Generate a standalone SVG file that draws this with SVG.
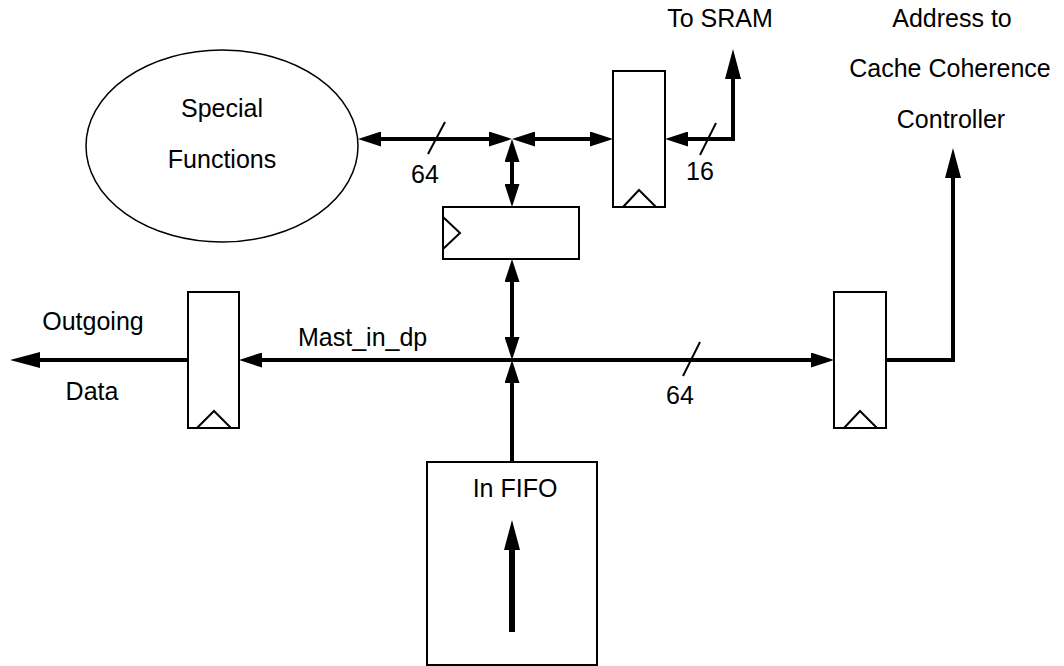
<svg xmlns="http://www.w3.org/2000/svg" width="1064" height="666" viewBox="0 0 1064 666">
<style>
.box{fill:#fff;stroke:#000;stroke-width:2}
.clk{fill:none;stroke:#000;stroke-width:2}
.bus{fill:none;stroke:#000;stroke-width:4}
.slash{fill:none;stroke:#000;stroke-width:2}
text{font-family:"Liberation Sans",Arial,sans-serif;font-size:25px;fill:#000}
.c{text-anchor:middle}
</style>
<defs>
<marker id="ah" markerUnits="userSpaceOnUse" viewBox="0 0 23 15" refX="0" refY="7.5" markerWidth="23" markerHeight="15" orient="auto-start-reverse"><path d="M0,0 L23,7.5 L0,15 z" fill="#000"/></marker>
<marker id="big" markerUnits="userSpaceOnUse" viewBox="0 0 30 16" refX="0" refY="8" markerWidth="30" markerHeight="16" orient="auto-start-reverse"><path d="M0,0 L30,8 L0,16 z" fill="#000"/></marker>
</defs>
<rect width="1064" height="666" fill="#fff"/>
<g id="special-functions">
<ellipse cx="222" cy="146" rx="136" ry="96" fill="#fff" stroke="#000" stroke-width="1.5"/>
<text class="c" x="222" y="117">Special</text>
<text class="c" x="222" y="168">Functions</text>
</g>
<g id="sram-register">
<rect class="box" x="613" y="71" width="52" height="136"/>
<polyline class="clk" points="623,207 639,190 656,207"/>
</g>
<g id="mid-register">
<rect class="box" x="443" y="207" width="136" height="52"/>
<polyline class="clk" points="443,217 460,233 443,249"/>
</g>
<g id="out-register">
<rect class="box" x="188" y="292" width="51" height="136"/>
<polyline class="clk" points="197,428 214,411 231,428"/>
</g>
<g id="addr-register">
<rect class="box" x="834" y="292" width="52" height="136"/>
<polyline class="clk" points="844,428 860,411 877,428"/>
</g>
<g id="in-fifo">
<rect class="box" x="427" y="462" width="170" height="203"/>
<text class="c" x="515" y="497">In FIFO</text>
<path d="M512,632 L512,550" fill="none" stroke="#000" stroke-width="6" marker-end="url(#big)"/>
</g>
<g id="connectors">
<path class="bus" d="M381,139 L489,139" marker-start="url(#ah)" marker-end="url(#ah)"/>
<path class="bus" d="M535,139 L590,139" marker-start="url(#ah)" marker-end="url(#ah)"/>
<path class="bus" d="M512,162 L512,184" marker-start="url(#ah)" marker-end="url(#ah)"/>
<path class="bus" d="M512,282 L512,337" marker-start="url(#ah)" marker-end="url(#ah)"/>
<path class="bus" d="M512,462 L512,383" marker-end="url(#ah)"/>
<path class="bus" d="M262,360 L811,360" marker-start="url(#ah)" marker-end="url(#ah)"/>
<path class="bus" d="M188,360 L40,360" marker-end="url(#big)"/>
<path class="bus" d="M886,360 L953,360 L953,178" marker-end="url(#big)"/>
<path class="bus" d="M733,79 L733,139 L688,139" marker-start="url(#big)" marker-end="url(#ah)"/>
<line class="slash" x1="428" y1="154" x2="445" y2="122"/>
<line class="slash" x1="700" y1="155" x2="716" y2="123"/>
<line class="slash" x1="683" y1="376" x2="700" y2="342"/>
</g>
<g id="labels">
<text class="c" x="425" y="183">64</text>
<text class="c" x="700" y="180">16</text>
<text class="c" x="680" y="404">64</text>
<text x="298" y="346">Mast_in_dp</text>
<text class="c" x="93" y="330">Outgoing</text>
<text class="c" x="92" y="400">Data</text>
<text class="c" x="720" y="27">To SRAM</text>
<text class="c" x="952" y="27">Address to</text>
<text class="c" x="950" y="77">Cache Coherence</text>
<text class="c" x="951" y="128">Controller</text>
</g>
</svg>
